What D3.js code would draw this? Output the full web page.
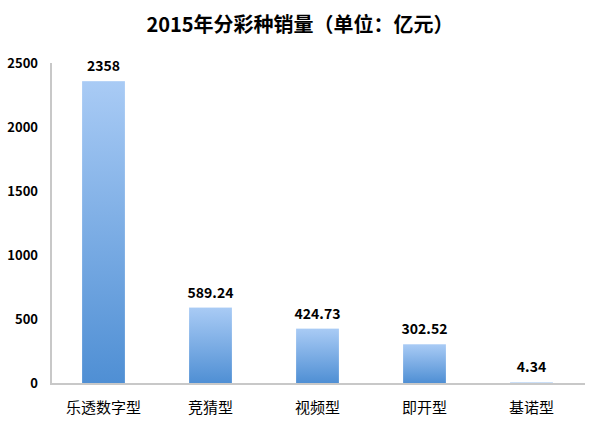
<!DOCTYPE html><html><head><meta charset="utf-8"><script src="https://cdn.jsdelivr.net/npm/d3@7"></script>
<style>body{margin:0;background:#fff}text{font-family:"Noto Sans CJK SC",sans-serif}</style></head><body><svg id="c" width="600" height="425"></svg><script>
const categories=["乐透数字型","竞猜型","视频型","即开型","基诺型"];
const values=[2358,589.24,424.73,302.52,4.34];
const labels=["2358","589.24","424.73","302.52","4.34"];
const ticks=[0,500,1000,1500,2000,2500];
const svg=d3.select("#c");
const x=d3.scaleBand().domain(categories).range([50,585]).paddingInner(0.6).paddingOuter(0.3);
const y=d3.scaleLinear().domain([0,2500]).range([383,63]);
const defs=svg.append("defs");
const g=defs.append("linearGradient").attr("id","gr").attr("x1",0).attr("y1",0).attr("x2",0).attr("y2",1);
g.append("stop").attr("offset","0").attr("stop-color","#a9cbf5");
g.append("stop").attr("offset","1").attr("stop-color","#4f8fd4");
svg.append("text").attr("x",300).attr("y",32).attr("text-anchor","middle").attr("font-size",20).attr("font-weight","bold").text("2015年分彩种销量（单位：亿元）");
svg.append("line").attr("x1",51).attr("x2",51).attr("y1",y(2500)).attr("y2",384).attr("stroke","#c8c8c8").attr("stroke-width",2);
svg.append("line").attr("x1",50).attr("x2",585).attr("y1",384).attr("y2",384).attr("stroke","#c8c8c8").attr("stroke-width",2);
svg.selectAll(".t").data(ticks).join("text").attr("x",38).attr("y",d=>y(d)+5).attr("text-anchor","end").attr("font-size",13).attr("font-weight","bold").text(d=>d);
svg.selectAll(".b").data(values).join("rect").attr("x",(d,i)=>x(categories[i])).attr("width",x.bandwidth()).attr("y",d=>y(d)).attr("height",d=>383-y(d)).attr("fill","url(#gr)");
svg.selectAll(".v").data(values).join("text").attr("x",(d,i)=>x(categories[i])+x.bandwidth()/2).attr("y",d=>y(d)-10).attr("text-anchor","middle").attr("font-size",14).attr("font-weight","bold").text((d,i)=>labels[i]);
svg.selectAll(".c").data(categories).join("text").attr("x",d=>x(d)+x.bandwidth()/2).attr("y",413).attr("text-anchor","middle").attr("font-size",15).text(d=>d);
</script></body></html>
